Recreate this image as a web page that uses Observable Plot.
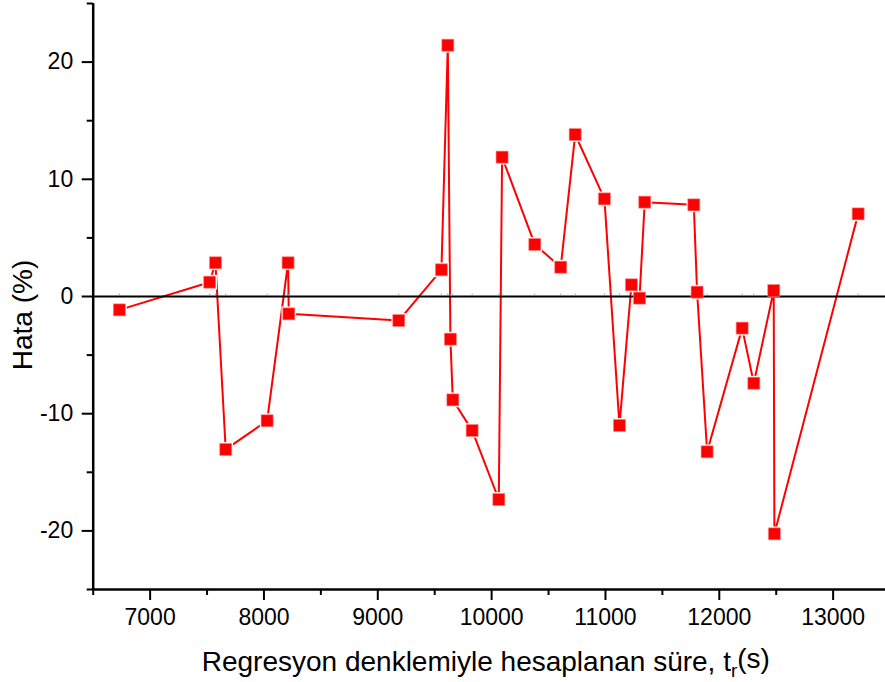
<!DOCTYPE html>
<html>
<head>
<meta charset="utf-8">
<script src="https://cdn.jsdelivr.net/npm/d3@7"></script>
<script src="https://cdn.jsdelivr.net/npm/@observablehq/plot@0.6"></script>
<style>
  html, body { margin: 0; padding: 0; background: #fff; }
  #chart svg { display: block; }
</style>
</head>
<body>
<div id="chart"></div>
<script>
// Regression-estimated time t_r (s)
const tr = [6730, 7523, 7574, 7664, 8028, 8212, 8218, 9184, 9559, 9615,
            9638, 9659, 9829, 10063, 10092, 10379, 10607, 10734, 10991, 11123,
            11228, 11299, 11345, 11776, 11805, 11893, 12201, 12303, 12478, 12484, 13220];
// Error (%)
const hata = [-1.14, 1.22, 2.88, -13.05, -10.6, 2.88, -1.48, -2.05, 2.28, 21.44,
              -3.64, -8.82, -11.43, -17.32, 11.89, 4.44, 2.50, 13.82, 8.33, -11.0,
              1.0, -0.14, 8.05, 7.82, 0.37, -13.25, -2.70, -7.40, 0.51, -20.25, 7.05];

const xMajorTicks = [7000, 8000, 9000, 10000, 11000, 12000, 13000];
const xMinorTicks = [6500, 7500, 8500, 9500, 10500, 11500, 12500, 13500];
const yMajorTicks = [-20, -10, 0, 10, 20];
const yMinorTicks = [-25, -15, -5, 5, 15, 25];
const xTitle = "Regresyon denklemiyle hesaplanan süre, t";
const xTitleSub = "r";
const xTitleEnd = "(s)";
const yTitle = "Hata (%)";

const data = tr.map((x, i) => ({x, y: hata[i]}));

const W = 885, H = 682;
const mL = 92.7, mT = 3, mB = 93, mR = 0;
const font = "'Liberation Sans', Arial, Helvetica, sans-serif";

const chart = Plot.plot({
  width: W,
  height: H,
  marginLeft: mL,
  marginTop: mT,
  marginBottom: mB,
  marginRight: mR,
  style: {fontFamily: font, background: "#fff", color: "#000"},
  x: {domain: [6500, 13460]},
  y: {domain: [-25, 25]},
  marks: [
    Plot.axisX(xMajorTicks, {tickSize: 11, tickPadding: 8, fontSize: 23, strokeWidth: 2, label: null, tickFormat: d => String(d)}),
    Plot.axisX(xMinorTicks, {tickSize: 6, strokeWidth: 2, label: null, tickFormat: () => ""}),
    Plot.axisY(yMajorTicks, {tickSize: 11, tickPadding: 9, fontSize: 23, strokeWidth: 2, label: null, tickFormat: d => String(d)}),
    Plot.axisY(yMinorTicks, {tickSize: 6, strokeWidth: 2, label: null, tickFormat: () => ""}),
    Plot.line(data, {x: "x", y: "y", stroke: "#ff0000", strokeWidth: 2}),
    Plot.dot(data, {x: "x", y: "y", symbol: "square", r: 8.3, fill: "#fff", stroke: "none"}),
    Plot.ruleY([0], {stroke: "#000", strokeWidth: 2}),
    Plot.ruleX(tr, {x: d => d, y1: 0, y2: 0.2, stroke: "#888", strokeWidth: 0.8}),
    Plot.dot(data, {x: "x", y: "y", symbol: "square", r: 6.8, fill: "#ff0000", stroke: "#ff8c8c", strokeWidth: 0.6}),
    Plot.ruleX([6500], {y1: -25, y2: 25, stroke: "#000", strokeWidth: 2.5}),
    Plot.ruleY([-25], {stroke: "#000", strokeWidth: 2.5})
  ]
});

const svg = d3.select(chart);
const cx = (mL + (W - mR)) / 2;
const t = svg.append("text")
  .attr("x", cx - 3)
  .attr("y", 671)
  .attr("text-anchor", "middle")
  .attr("font-family", font)
  .attr("font-size", 28)
  .attr("fill", "#000");
t.append("tspan").text(xTitle);
t.append("tspan").attr("dy", "0.3em").attr("font-size", 19).text(xTitleSub);
t.append("tspan").attr("dy", "-0.3em").text(xTitleEnd);

svg.append("text")
  .attr("transform", `translate(32, ${315}) rotate(-90)`)
  .attr("text-anchor", "middle")
  .attr("font-family", font)
  .attr("font-size", 28)
  .attr("fill", "#000")
  .text(yTitle);

document.getElementById("chart").appendChild(chart);
</script>
</body>
</html>
